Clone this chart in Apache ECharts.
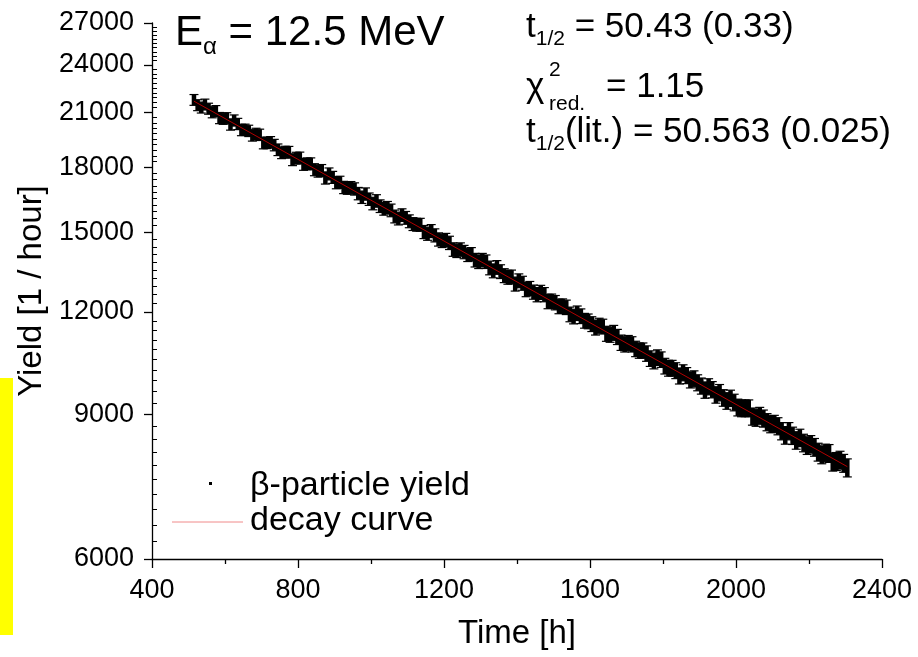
<!DOCTYPE html>
<html>
<head>
<meta charset="utf-8">
<script src="https://cdn.jsdelivr.net/npm/echarts@6/dist/echarts.min.js"></script>
<style>
  html, body { margin: 0; padding: 0; background: #fff; }
  #chart { width: 918px; height: 657px; }
</style>
</head>
<body>
<div id="chart"></div>
<script>
// Measurement times [h]
const timeHours = [
  515, 525, 535, 545, 555, 565, 575, 585, 595, 605, 615, 625, 635, 645, 655, 665, 675, 685,
  695, 705, 715, 725, 735, 745, 755, 765, 775, 785, 795, 805, 815, 825, 835, 845, 855, 865,
  875, 885, 895, 905, 915, 925, 935, 945, 955, 965, 975, 985, 995, 1005, 1015, 1025, 1035, 1045,
  1055, 1065, 1075, 1085, 1095, 1105, 1115, 1125, 1135, 1145, 1155, 1165, 1175, 1185, 1195, 1205,
  1215, 1225, 1235, 1245, 1255, 1265, 1275, 1285, 1295, 1305, 1315, 1325, 1335, 1345, 1355, 1365,
  1375, 1385, 1395, 1405, 1415, 1425, 1435, 1445, 1455, 1465, 1475, 1485, 1495, 1505, 1515, 1525,
  1535, 1545, 1555, 1565, 1575, 1585, 1595, 1605, 1615, 1625, 1635, 1645, 1655, 1665, 1675, 1685,
  1695, 1705, 1715, 1725, 1735, 1745, 1755, 1765, 1775, 1785, 1795, 1805, 1815, 1825, 1835, 1845,
  1855, 1865, 1875, 1885, 1895, 1905, 1915, 1925, 1935, 1945, 1955, 1965, 1975, 1985, 1995, 2005,
  2015, 2025, 2035, 2045, 2055, 2065, 2075, 2085, 2095, 2105, 2115, 2125, 2135, 2145, 2155, 2165,
  2175, 2185, 2195, 2205, 2215, 2225, 2235, 2245, 2255, 2265, 2275, 2285, 2295, 2305
];
// beta-particle yield [1/hour]
const betaYield = [
  21760, 21440, 21300, 21480, 21230, 21020, 21090, 20680, 20640, 20670, 20310, 20540, 20340, 20000, 20010, 19950, 19700, 19780,
  19730, 19280, 19290, 19320, 19170, 18920, 18760, 18800, 18790, 18400, 18480, 18490, 18160, 18190, 18190, 17890, 17820, 17850,
  17480, 17680, 17510, 17250, 17270, 17020, 16990, 17010, 16950, 16730, 16560, 16710, 16470, 16270, 16390, 16150, 16030, 16080,
  15960, 15690, 15600, 15750, 15630, 15480, 15360, 15330, 15330, 15020, 14950, 15060, 14880, 14710, 14650, 14690, 14570, 14300,
  14250, 14300, 14200, 14090, 14110, 13880, 13820, 13880, 13820, 13580, 13470, 13600, 13440, 13290, 13230, 13240, 12980, 13100,
  13010, 12780, 12820, 12690, 12600, 12680, 12600, 12360, 12370, 12320, 12190, 12200, 12160, 11920, 11850, 11960, 11860, 11710,
  11690, 11600, 11490, 11550, 11520, 11290, 11260, 11320, 11190, 11010, 10960, 11000, 10960, 10820, 10770, 10770, 10680, 10530,
  10460, 10560, 10500, 10310, 10250, 10250, 10180, 10030, 10120, 10040, 9920, 9950, 9840, 9750, 9640, 9730, 9650, 9510,
  9570, 9430, 9350, 9420, 9310, 9180, 9160, 9160, 9160, 8950, 8920, 8970, 8900, 8810, 8760, 8770, 8710, 8590,
  8490, 8590, 8480, 8370, 8430, 8310, 8250, 8280, 8210, 8100, 8040, 8080, 8070, 7880, 7890, 7920, 7850, 7750
];
// uncertainty of each yield
const yieldError = [
  329, 328, 328, 327, 328, 327, 325, 324, 322, 321, 321, 320, 321, 320, 318, 317, 316, 315, 314, 313,
  311, 310, 309, 308, 307, 306, 307, 306, 305, 304, 302, 301, 302, 301, 300, 299, 298, 297, 295, 294,
  294, 293, 294, 293, 291, 290, 288, 287, 287, 286, 287, 286, 284, 283, 283, 282, 280, 279, 280, 279,
  277, 276, 277, 276, 276, 275, 273, 272, 272, 271, 272, 271, 269, 268, 266, 265, 266, 265, 265, 264,
  262, 261, 262, 261, 260, 259, 258, 257, 255, 254, 255, 254, 253, 252, 253, 252, 251, 250, 249, 248,
  249, 248, 246, 245, 244, 243, 244, 243, 242, 241, 242, 241, 239, 238, 238, 237, 238, 237, 235, 234,
  235, 234, 232, 231, 231, 230, 231, 230, 228, 227, 228, 227, 227, 226, 227, 226, 224, 223, 221, 220,
  221, 220, 220, 219, 220, 219, 217, 216, 217, 216, 216, 215, 216, 215, 213, 212, 213, 212, 210, 209,
  209, 208, 209, 208, 206, 205, 206, 205, 204, 203, 204, 203, 202, 201, 202, 201, 199, 198, 197, 196
];
// fitted exponential decay (a straight line on the log axis)
const fitTime = [515, 2305];
const fitYield = [21680, 7775];

const xTicks = [400, 800, 1200, 1600, 2000, 2400];
const yTicks = [6000, 9000, 12000, 15000, 18000, 21000, 24000, 27000];
const yMinorTicks = [];
for (let v = 6300; v < 27000; v += 300) {
  if (yTicks.indexOf(v) < 0) yMinorTicks.push(v);
}

const FONT = 'Liberation Sans, Arial, sans-serif';
const chart = echarts.init(document.getElementById('chart'), null, { renderer: 'canvas' });

const errorData = timeHours.map((t, i) => [t, betaYield[i], yieldError[i]]);
const pointData = timeHours.map((t, i) => [t, betaYield[i]]);
const fitData = fitTime.map((t, i) => [t, fitYield[i]]);

const axisLineStyle = { color: '#000', width: 1.3 };

function mainText(x, y, text, size) {
  return {
    type: 'text', x: x, y: y, z: 10,
    style: { text: text, fontFamily: FONT, fontSize: size, fill: '#000', align: 'left', verticalAlign: 'middle' }
  };
}

chart.setOption({
  animation: false,
  backgroundColor: '#fff',
  grid: { left: 152, right: 36, top: 23, bottom: 98, containLabel: false },
  xAxis: [{
    type: 'value', min: xTicks[0], max: xTicks[xTicks.length - 1], interval: 400,
    name: 'Time [h]', nameLocation: 'middle', nameGap: 58,
    nameTextStyle: { fontFamily: FONT, fontSize: 33, color: '#000' },
    axisLine: { show: true, onZero: false, lineStyle: axisLineStyle },
    axisTick: { show: true, inside: false, length: 9, lineStyle: axisLineStyle },
    minorTick: { show: true, splitNumber: 2, length: 5, lineStyle: axisLineStyle },
    axisLabel: { fontFamily: FONT, fontSize: 27, color: '#000', margin: 18, formatter: v => String(v) },
    splitLine: { show: false }, minorSplitLine: { show: false }
  }],
  yAxis: [{
    type: 'log', logBase: 10, min: yTicks[0], max: yTicks[yTicks.length - 1], position: 'left',
    name: 'Yield [1 / hour]', nameLocation: 'middle', nameGap: 100, nameRotate: 90,
    nameTextStyle: { fontFamily: FONT, fontSize: 33, color: '#000' },
    axisLine: { show: true, onZero: false, lineStyle: axisLineStyle },
    axisTick: { show: true, inside: false, length: 8, customValues: yTicks, lineStyle: axisLineStyle },
    axisLabel: {
      fontFamily: FONT, fontSize: 27, color: '#000', margin: 18,
      customValues: yTicks, formatter: v => String(Math.round(v))
    },
    splitLine: { show: false }
  }, {
    type: 'log', logBase: 10, min: yTicks[0], max: yTicks[yTicks.length - 1], position: 'left', offset: 0,
    axisLine: { show: false },
    axisTick: { show: true, inside: true, length: 5, customValues: yMinorTicks, lineStyle: { color: '#000', width: 1 } },
    axisLabel: { show: false },
    splitLine: { show: false }
  }],
  series: [{
    name: 'error',
    type: 'custom',
    data: errorData,
    encode: { x: 0, y: 1 },
    renderItem: function (params, api) {
      const t = api.value(0), y = api.value(1), e = api.value(2);
      const top = api.coord([t, y + e]);
      const bot = api.coord([t, y - e]);
      const hw = 4.5;
      const cap = { stroke: '#000', lineWidth: 1.2 };
      return {
        type: 'group',
        children: [
          { type: 'line', shape: { x1: top[0], y1: top[1], x2: bot[0], y2: bot[1] }, style: { stroke: '#000', lineWidth: 4.5 } },
          { type: 'line', shape: { x1: top[0] - hw, y1: top[1], x2: top[0] + hw, y2: top[1] }, style: cap },
          { type: 'line', shape: { x1: bot[0] - hw, y1: bot[1], x2: bot[0] + hw, y2: bot[1] }, style: cap }
        ]
      };
    },
    z: 2
  }, {
    name: 'β-particle yield',
    type: 'scatter',
    data: pointData,
    symbol: 'rect',
    symbolSize: 3,
    itemStyle: { color: '#000' },
    z: 3
  }, {
    name: 'decay curve',
    type: 'line',
    data: fitData,
    showSymbol: false,
    lineStyle: { color: '#e00000', width: 0.8 },
    z: 4
  }],
  graphic: [
    { type: 'rect', left: 0, top: 378, shape: { width: 13, height: 257 }, style: { fill: '#ffff00' }, z: 0 },
    {
      type: 'text', left: 175, top: 12, z: 10,
      style: {
        text: '{m|E}{s|α}{m| = 12.5 MeV}',
        rich: {
          m: { fontFamily: FONT, fontSize: 42, fill: '#000', lineHeight: 52, verticalAlign: 'middle' },
          s: { fontFamily: FONT, fontSize: 24, fill: '#000', lineHeight: 22, verticalAlign: 'bottom' }
        }
      }
    },
    {
      type: 'text', left: 526, top: 10, z: 10,
      style: {
        text: '{m|t}{s|1/2}{m| = 50.43 (0.33)}',
        rich: {
          m: { fontFamily: FONT, fontSize: 35, fill: '#000', lineHeight: 44, verticalAlign: 'middle' },
          s: { fontFamily: FONT, fontSize: 21, fill: '#000', lineHeight: 20, verticalAlign: 'bottom' }
        }
      }
    },
    mainText(526, 87.5, 'χ', 35),
    mainText(549, 70, '2', 21),
    mainText(549, 104, 'red.', 21),
    mainText(606, 87.5, '= 1.15', 35),
    {
      type: 'text', left: 526, top: 115, z: 10,
      style: {
        text: '{m|t}{s|1/2}{m|(lit.) = 50.563 (0.025)}',
        rich: {
          m: { fontFamily: FONT, fontSize: 35, fill: '#000', lineHeight: 44, verticalAlign: 'middle' },
          s: { fontFamily: FONT, fontSize: 21, fill: '#000', lineHeight: 20, verticalAlign: 'bottom' }
        }
      }
    },
    // legend
    { type: 'rect', x: 209, y: 482, shape: { width: 3, height: 3 }, style: { fill: '#000' }, z: 10 },
    mainText(250, 486, 'β-particle yield', 34),
    { type: 'line', shape: { x1: 172, y1: 522, x2: 243, y2: 522 }, style: { stroke: '#f08a8a', lineWidth: 1 }, z: 10 },
    mainText(250, 521, 'decay curve', 34)
  ]
});
</script>
</body>
</html>
